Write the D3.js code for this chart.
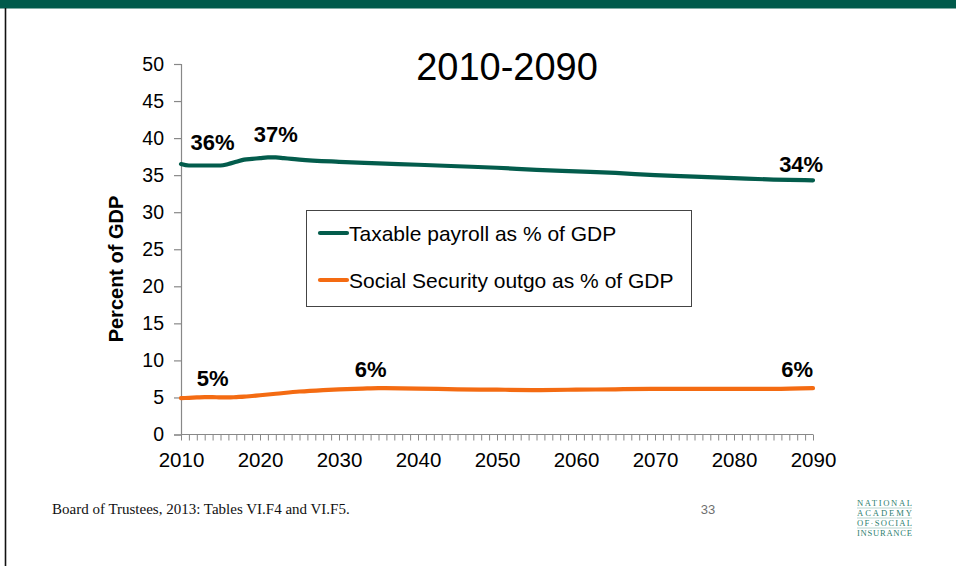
<!DOCTYPE html>
<html>
<head>
<meta charset="utf-8">
<script src="https://cdn.jsdelivr.net/npm/d3@7"></script>
<style>
  html, body { margin: 0; padding: 0; background: #fff; }
  svg { display: block; }
</style>
</head>
<body>
<svg id="chart" width="956" height="566"></svg>
<script>
// ---- data ----
const title = "2010-2090";
const yAxisTitle = "Percent of GDP";
const seriesNames = ["Taxable payroll as % of GDP", "Social Security outgo as % of GDP"];
const payrollYears = [2010, 2011, 2012, 2013, 2014, 2015, 2016, 2017, 2018, 2019, 2020, 2021, 2022, 2023, 2024, 2025, 2030, 2035, 2040, 2045, 2050, 2055, 2060, 2065, 2070, 2075, 2080, 2085, 2090];
const payrollValues = [36.5, 36.3, 36.3, 36.3, 36.3, 36.3, 36.5, 36.8, 37.1, 37.2, 37.3, 37.4, 37.4, 37.3, 37.2, 37.1, 36.8, 36.6, 36.4, 36.2, 36.0, 35.7, 35.5, 35.3, 35.0, 34.8, 34.6, 34.4, 34.3];
const outgoYears = [2010, 2011, 2012, 2013, 2014, 2015, 2016, 2017, 2018, 2019, 2020, 2022, 2025, 2028, 2030, 2033, 2035, 2040, 2045, 2050, 2055, 2060, 2065, 2070, 2075, 2080, 2085, 2090];
const outgoValues = [4.9, 4.95, 5.0, 5.05, 5.05, 5.0, 5.0, 5.05, 5.1, 5.2, 5.3, 5.5, 5.8, 6.0, 6.1, 6.2, 6.25, 6.2, 6.1, 6.05, 6.0, 6.05, 6.1, 6.15, 6.15, 6.15, 6.15, 6.25];
const payrollLabelYears = [2014, 2022, 2088.5];
const payrollLabelTexts = ["36%", "37%", "34%"];
const outgoLabelYears = [2014, 2034, 2088];
const outgoLabelTexts = ["5%", "6%", "6%"];
const yTickValues = [0, 5, 10, 15, 20, 25, 30, 35, 40, 45, 50];
const xTickLabels = [2010, 2020, 2030, 2040, 2050, 2060, 2070, 2080, 2090];
const sourceNote = "Board of Trustees, 2013: Tables VI.F4 and VI.F5.";
const pageNumber = "33";
const logoLines = ["NATIONAL", "ACADEMY", "OF\u00B7SOCIAL", "INSURANCE"];

// ---- drawing ----
const svg = d3.select("#chart");
const GREEN = "#035c4c", ORANGE = "#f46b12", AXIS = "#888";
const FONT = "Arial, 'Liberation Sans', sans-serif";
const SERIF = "'Liberation Serif', 'Times New Roman', serif";

// frame
svg.append("rect").attr("x", 0).attr("y", 0).attr("width", 956).attr("height", 8.5).attr("fill", "#005a4b");
svg.append("line").attr("x1", 5.5).attr("x2", 5.5).attr("y1", 8).attr("y2", 566).attr("stroke", "#111").attr("stroke-width", 1.6);

const x = d3.scaleLinear().domain([2010, 2090]).range([181, 813]);
const y = d3.scaleLinear().domain([0, 50]).range([434.5, 64]);

// title
svg.append("text").attr("x", 507).attr("y", 80).attr("text-anchor", "middle")
  .attr("font-family", FONT).attr("font-size", 38).attr("fill", "#000").text(title);

// y axis
const yAxis = d3.axisLeft(y).tickValues(yTickValues).tickSize(7).tickPadding(10);
const gy = svg.append("g").attr("transform", `translate(${x(2010)},0)`).call(yAxis);
gy.select(".domain").attr("stroke", AXIS).attr("stroke-width", 1.2);
gy.selectAll(".tick line").attr("stroke", AXIS).attr("stroke-width", 1.2);
gy.selectAll(".tick text").attr("font-family", FONT).attr("font-size", 19.5).attr("fill", "#000");

// x axis (yearly minor ticks, labels every 10)
const xAxis = d3.axisBottom(x).tickValues(d3.range(2010, 2091, 1)).tickSize(6).tickPadding(12)
  .tickFormat(d => xTickLabels.includes(d) ? String(d) : "");
const gx = svg.append("g").attr("transform", `translate(0,${y(0)})`).call(xAxis);
gx.select(".domain").attr("stroke", AXIS).attr("stroke-width", 1.2).attr("d", `M${x(2010)},0H${x(2090)}`);
gx.selectAll(".tick line").attr("stroke", AXIS).attr("stroke-width", 1);
gx.selectAll(".tick text").attr("font-family", FONT).attr("font-size", 20.5).attr("fill", "#000");

// y axis title
svg.append("text").attr("transform", `translate(123,269) rotate(-90)`).attr("text-anchor", "middle")
  .attr("font-family", FONT).attr("font-size", 20).attr("font-weight", "bold").attr("fill", "#000").text(yAxisTitle);

// lines
const line = d3.line().x(d => x(d[0])).y(d => y(d[1])).curve(d3.curveMonotoneX);
const payroll = payrollYears.map((yr, i) => [yr, payrollValues[i]]);
const outgo = outgoYears.map((yr, i) => [yr, outgoValues[i]]);
svg.append("path").datum(payroll).attr("d", line).attr("fill", "none").attr("stroke", GREEN)
  .attr("stroke-width", 4.2).attr("stroke-linecap", "round").attr("stroke-linejoin", "round");
svg.append("path").datum(outgo).attr("d", line).attr("fill", "none").attr("stroke", ORANGE)
  .attr("stroke-width", 4.2).attr("stroke-linecap", "round").attr("stroke-linejoin", "round");

// data labels
const interp = (yrs, vals, yr) => {
  for (let i = 0; i < yrs.length - 1; i++) {
    if (yr >= yrs[i] && yr <= yrs[i + 1]) {
      const t = (yr - yrs[i]) / (yrs[i + 1] - yrs[i]);
      return vals[i] + t * (vals[i + 1] - vals[i]);
    }
  }
  return vals[vals.length - 1];
};
const payrollLabelOffsets = [16, 15, 8];
payrollLabelYears.forEach((yr, i) => {
  svg.append("text").attr("x", x(yr)).attr("y", y(interp(payrollYears, payrollValues, yr)) - payrollLabelOffsets[i])
    .attr("text-anchor", "middle").attr("font-family", FONT).attr("font-size", 22).attr("font-weight", "bold")
    .attr("fill", "#000").text(payrollLabelTexts[i]);
});
outgoLabelYears.forEach((yr, i) => {
  svg.append("text").attr("x", x(yr)).attr("y", y(interp(outgoYears, outgoValues, yr)) - 11)
    .attr("text-anchor", "middle").attr("font-family", FONT).attr("font-size", 22).attr("font-weight", "bold")
    .attr("fill", "#000").text(outgoLabelTexts[i]);
});

// legend
const lg = svg.append("g");
lg.append("rect").attr("x", 306.5).attr("y", 210.5).attr("width", 385).attr("height", 96)
  .attr("fill", "#fff").attr("stroke", "#444").attr("stroke-width", 1);
[GREEN, ORANGE].forEach((c, i) => {
  const yy = 233 + i * 47;
  lg.append("line").attr("x1", 320).attr("x2", 347).attr("y1", yy).attr("y2", yy)
    .attr("stroke", c).attr("stroke-width", 4.2).attr("stroke-linecap", "round");
  lg.append("text").attr("x", 349).attr("y", yy + 7.5).attr("font-family", FONT).attr("font-size", 21)
    .attr("fill", "#000").text(seriesNames[i]);
});

// footer
svg.append("text").attr("x", 52).attr("y", 514).attr("font-family", SERIF)
  .attr("font-size", 15).attr("fill", "#111").text(sourceNote);
svg.append("text").attr("x", 708).attr("y", 514).attr("text-anchor", "middle").attr("font-family", FONT)
  .attr("font-size", 13).attr("fill", "#6f6f6f").text(pageNumber);

// logo
const LOGO = "#2f7f6f";
logoLines.forEach((t, i) => {
  svg.append("text").attr("x", 857).attr("y", 505.5 + i * 10).attr("font-family", SERIF)
    .attr("font-size", 8.6).attr("fill", LOGO)
    .attr("textLength", 55).attr("lengthAdjust", "spacing").text(t);
  if (i < logoLines.length - 1) {
    svg.append("line").attr("x1", 857).attr("x2", 912).attr("y1", 508 + i * 10).attr("y2", 508 + i * 10)
      .attr("stroke", "#a9cbc3").attr("stroke-width", 0.8);
  }
});
</script>
</body>
</html>
